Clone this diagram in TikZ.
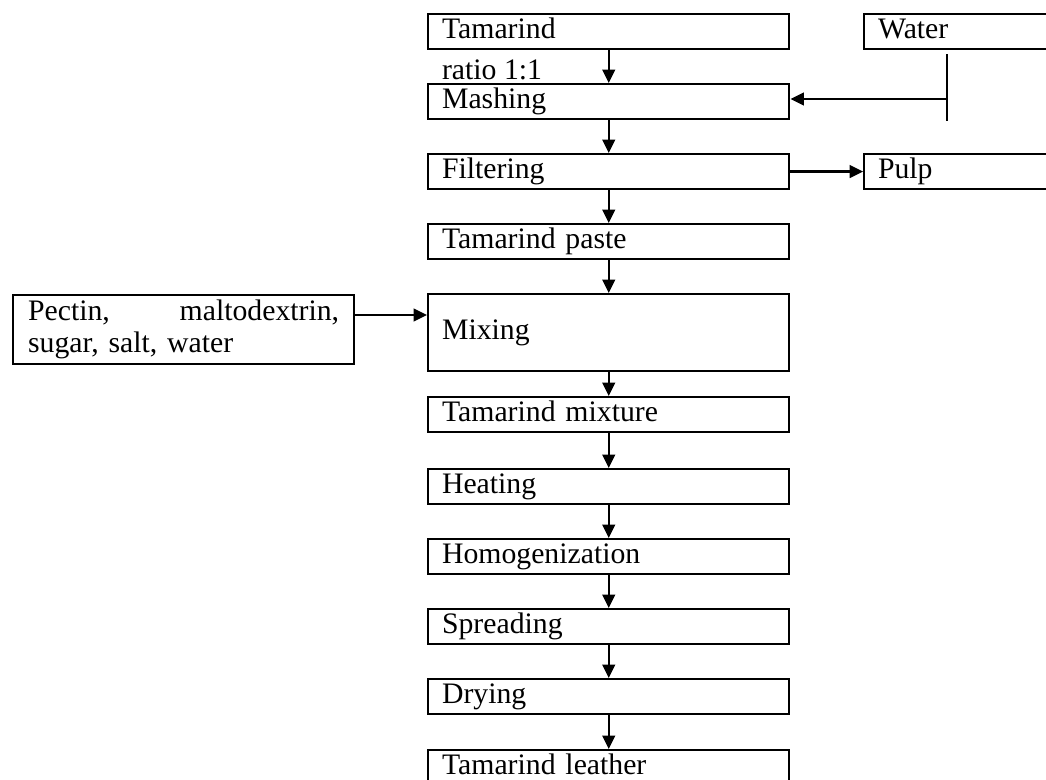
\documentclass[tikz,border=0pt]{standalone}
\usepackage{fontspec}
\setmainfont{Liberation Serif}
\usetikzlibrary{arrows.meta}
\tikzset{every picture/.style = {x=0.75pt, y=-0.75pt, line width=1.6pt}}
\tikzset{stage/.style = {draw, anchor=north west, minimum height=26.25pt,
    text width=250pt, inner xsep=10.5pt, inner ysep=0pt, align=left,
    text height=15.5pt, text depth=5pt, font=\fontsize{22.3}{25.5}\selectfont}}
\tikzset{tall/.style = {minimum height=57.75pt}}
\tikzset{extra/.style = {draw, anchor=north west, minimum height=51.75pt,
    text width=233.25pt, inner xsep=11.25pt, inner ysep=0pt, align=left,
    font=\fontsize{22.3}{24}\selectfont}}
\tikzset{note/.style = {anchor=west, inner sep=0pt, font=\fontsize{22.3}{25.5}\selectfont}}
\tikzset{arr/.style = {-{Triangle[length=10pt, width=9.5pt]}}}
\tikzset{feed/.style = {line width=1.3pt}}

\begin{document}
\begin{tikzpicture}
  \useasboundingbox (0, 0) rectangle (1046, 780);
  % main line
  \node[stage] (tam) at (427, 13) {Tamarind};
  \node[stage] (mash) at (427, 83) {Mashing};
  \node[stage] (filt) at (427, 153) {Filtering};
  \node[stage] (paste) at (427, 223) {Tamarind paste};
  \node[stage, tall] (mix) at (427, 293) {Mixing};
  \node[stage] (mixture) at (427, 396) {Tamarind mixture};
  \node[stage] (heat) at (427, 468) {Heating};
  \node[stage] (homo) at (427, 538) {Homogenization};
  \node[stage] (spread) at (427, 608) {Spreading};
  \node[stage] (dry) at (427, 678) {Drying};
  \node[stage] (leather) at (427, 749) {Tamarind leather};
  \node[note] (ratio) at (441, 70) {ratio 1:1};
  % side inputs and outputs
  \node[stage] (water) at (863, 13) {Water};
  \node[stage] (pulp) at (863, 153) {Pulp};
  \node[extra] (pectin) at (12, 294) {Pectin, \hfill maltodextrin,\\sugar, salt, water};
  \coordinate (wend) at (947, 121);
  \coordinate (wjoin) at (947, 99);
  \coordinate (pin) at (0, 315);

  \foreach \a/\b in {tam/mash, mash/filt, filt/paste, paste/mix, mix/mixture,
      mixture/heat, heat/homo, homo/spread, spread/dry, dry/leather}
    \draw[arr] (\a) -- (\b);
  \draw[arr] (filt) -- (pulp);
  \draw[feed] ([yshift=-3pt]water.south -| wend) -- (wend);
  \draw[arr] (wjoin) -- (mash.east |- wjoin);
  \draw[arr] (pectin.east |- pin) -- (mix.west |- pin);
\end{tikzpicture}
\end{document}
